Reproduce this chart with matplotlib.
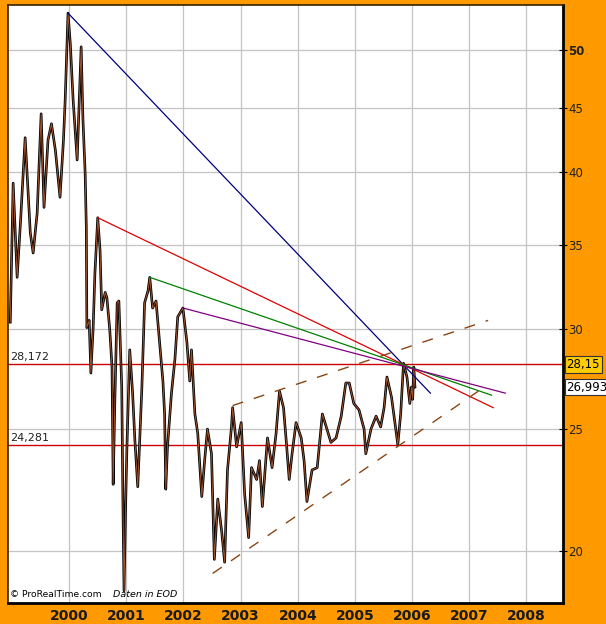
import matplotlib
matplotlib.use("Agg")
import matplotlib.pyplot as plt
import matplotlib.transforms as mtransforms
from matplotlib.ticker import FixedLocator, NullLocator

# price series (decimal year, price)
dates = [1998.97, 1999.02, 1999.09, 1999.15, 1999.23, 1999.32, 1999.37, 1999.44, 1999.51, 1999.56,
         1999.63, 1999.69, 1999.76, 1999.84, 1999.90, 1999.93, 1999.98, 2000.02, 2000.07, 2000.14,
         2000.21, 2000.24, 2000.28, 2000.30, 2000.31, 2000.35, 2000.38, 2000.42, 2000.45, 2000.50,
         2000.54, 2000.57, 2000.63, 2000.66, 2000.71, 2000.75, 2000.77, 2000.80, 2000.84, 2000.87,
         2000.92, 2000.94, 2000.96, 2000.99, 2001.01, 2001.06, 2001.11, 2001.15, 2001.20, 2001.27,
         2001.32, 2001.38, 2001.41, 2001.46, 2001.52, 2001.59, 2001.64, 2001.67, 2001.69, 2001.72,
         2001.79, 2001.85, 2001.90, 2001.99, 2002.06, 2002.11, 2002.14, 2002.20, 2002.25, 2002.32,
         2002.37, 2002.42, 2002.49, 2002.54, 2002.60, 2002.67, 2002.72, 2002.77, 2002.84, 2002.86,
         2002.93, 2003.01, 2003.07, 2003.14, 2003.19, 2003.28, 2003.33, 2003.38, 2003.47, 2003.55,
         2003.62, 2003.68, 2003.75, 2003.80, 2003.85, 2003.90, 2003.97, 2004.06, 2004.11, 2004.16,
         2004.25, 2004.34, 2004.43, 2004.51, 2004.58, 2004.67, 2004.76, 2004.84, 2004.90, 2004.98,
         2005.07, 2005.16, 2005.19, 2005.28, 2005.37, 2005.45, 2005.51, 2005.56, 2005.64, 2005.71,
         2005.75, 2005.80, 2005.85, 2005.91, 2005.96, 2005.99, 2006.01, 2006.03, 2006.05]
prices = [30.4, 39.2, 33.0, 36.6, 42.6, 35.8, 34.5, 37.1, 44.5, 37.5,
          42.4, 43.7, 41.6, 38.2, 42.4, 45.6, 53.5, 50.6, 45.6, 40.9,
          50.3, 44.2, 39.9, 36.2, 30.1, 30.5, 27.7, 30.1, 33.2, 36.8,
          34.7, 31.1, 32.1, 31.8, 30.0, 28.0, 22.6, 26.4, 31.5, 31.6,
          27.0, 22.0, 18.6, 22.0, 24.1, 28.9, 26.7, 24.5, 22.5, 26.8,
          31.5, 32.2, 33.0, 31.2, 31.6, 29.0, 27.3, 25.7, 22.4, 24.2,
          26.7, 28.4, 30.7, 31.2, 29.3, 27.3, 28.9, 25.7, 24.8, 22.1,
          23.6, 25.0, 23.9, 19.7, 22.0, 20.7, 19.6, 23.2, 25.1, 26.0,
          24.2, 25.3, 22.2, 20.5, 23.3, 22.8, 23.6, 21.7, 24.6, 23.3,
          24.8, 26.8, 26.0, 24.4, 22.8, 23.9, 25.3, 24.6, 23.6, 21.9,
          23.2, 23.3, 25.7, 25.0, 24.4, 24.6, 25.6, 27.2, 27.2, 26.2,
          25.9, 25.0, 23.9, 25.0, 25.6, 25.1, 26.0, 27.5, 26.5, 25.1,
          24.3, 25.7, 28.2, 27.5, 26.2, 27.0, 26.4, 28.0, 27.0]

# trend lines (start, end)
blue_x, blue_y = [1999.98, 2006.32], [53.5, 26.7]
red_x, red_y = [2000.50, 2007.42], [36.8, 26.0]
green_x, green_y = [2001.41, 2007.39], [33.0, 26.6]
purple_x, purple_y = [2001.99, 2007.63], [31.2, 26.7]
upper_x, upper_y = [2002.86, 2007.33], [26.1, 30.5]
lower_x, lower_y = [2002.51, 2007.16], [19.2, 26.8]

levels = [28.172, 24.281]
level_labels = ["28,172", "24,281"]
last_high, last_close = 28.15, 26.993

years = list(range(2000, 2009))
price_ticks = [20, 25, 30, 35, 40, 45, 50]

orange = "#ff9900"
fig = plt.figure(figsize=(6.06, 6.24), dpi=100, facecolor=orange)
ax = fig.add_axes([8 / 606, 21 / 624, 555 / 606, 598 / 624])
ax.set_facecolor("white")
ax.set_yscale("log")
ax.set_xlim(1998.93, 2008.64)
ax.set_ylim(18.19, 54.3)

ax.xaxis.set_major_locator(FixedLocator(years))
ax.xaxis.set_minor_locator(NullLocator())
ax.yaxis.set_major_locator(FixedLocator(price_ticks))
ax.yaxis.set_minor_locator(NullLocator())
ax.grid(True, color="#c4c4c4", lw=0.9)
ax.set_axisbelow(True)

ax.set_xticklabels([str(y) for y in years], fontsize=10, fontweight="bold", color="#1a1a1a")
ax.tick_params(axis="x", length=0, pad=4)
ax.yaxis.tick_right()
ax.set_yticklabels([str(p) for p in price_ticks], fontsize=8.5, color="#222222")
ax.get_yticklabels()[-1].set_fontweight("bold")
ax.tick_params(axis="y", direction="inout", length=6, width=0.8, pad=1)

for side in ["top", "left"]:
    ax.spines[side].set_linewidth(1.2)
    ax.spines[side].set_color("#3a2000")
for side in ["right", "bottom"]:
    ax.spines[side].set_linewidth(2)
    ax.spines[side].set_color("black")

for lv, lab in zip(levels, level_labels):
    ax.axhline(lv, color="#cc0000", lw=1)
    ax.text(1998.96, lv * 1.004, lab, fontsize=8, color="#222222", va="bottom", ha="left")

ax.plot(dates, prices, color="black", lw=1.9)
ax.plot(dates, prices, color="#a0522d", lw=0.7)

ax.plot(blue_x, blue_y, color="#000080", lw=0.9)
ax.plot(red_x, red_y, color="#e00000", lw=0.9)
ax.plot(green_x, green_y, color="#008000", lw=0.9)
ax.plot(purple_x, purple_y, color="#800080", lw=0.9)
ax.plot(upper_x, upper_y, color="#8b4513", lw=1, dashes=(8, 8))
ax.plot(lower_x, lower_y, color="#8b4513", lw=1, dashes=(8, 8))

trans = mtransforms.blended_transform_factory(ax.transAxes, ax.transData)
ax.text(1.006, last_high, "28,15", transform=trans, fontsize=8.5, va="center", ha="left",
        bbox=dict(boxstyle="square,pad=0.15", fc="#ffcc00", ec="#333333", lw=0.8), clip_on=False)
ax.text(1.006, last_close, "26,993", transform=trans, fontsize=8.5, va="center", ha="left",
        bbox=dict(boxstyle="square,pad=0.15", fc="white", ec="#333333", lw=0.8), clip_on=False)

ax.text(0.003, 0.006, "\u00a9 ProRealTime.com", transform=ax.transAxes, fontsize=6.6, va="bottom")
ax.text(0.19, 0.006, "Daten in EOD", transform=ax.transAxes, fontsize=6.8, va="bottom", style="italic")

fig.savefig("out.png", dpi=100, facecolor=orange)
